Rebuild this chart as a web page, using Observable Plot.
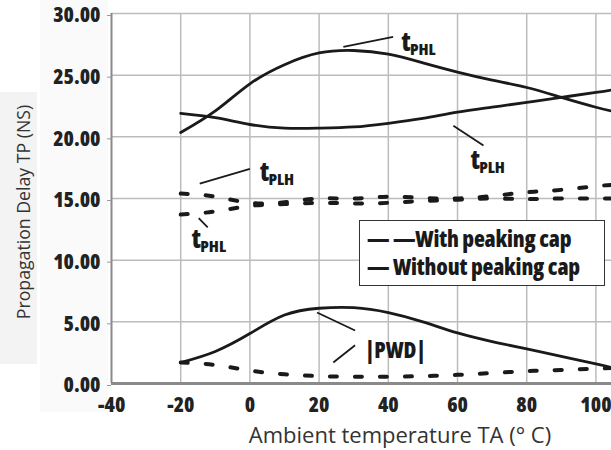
<!DOCTYPE html>
<html><head><meta charset="utf-8">
<script src="https://cdn.jsdelivr.net/npm/d3@7"></script>
<script src="https://cdn.jsdelivr.net/npm/@observablehq/plot@0.6"></script>
<style>
body{margin:0;background:#fff;}
#wrap{position:relative;width:611px;height:450px;overflow:hidden;background:#fff;}
#ylbg{position:absolute;left:0;top:92px;width:37px;height:272px;background:#f3f3f3;}
#tkbg{position:absolute;left:40px;top:0;width:68px;height:412px;background:#fafafa;}
#ylab{position:absolute;left:24px;top:212px;width:0;height:0;}
#ylab span{position:absolute;left:0;top:0;transform:translate(-50%,-50%) rotate(-90deg);white-space:nowrap;line-height:1;
  font-family:'Open Sans',sans-serif;font-size:17.7px;color:#333;}
#xlab{position:absolute;left:400px;top:422.5px;transform:translateX(-50%);white-space:nowrap;line-height:1;
  font-family:'Open Sans',sans-serif;font-size:22px;color:#333;}
#legend{position:absolute;left:359px;top:220px;width:246px;height:66px;box-sizing:border-box;border:1.5px solid #333;background:#fff;
  font-family:'Open Sans',sans-serif;font-stretch:condensed;font-weight:800;font-size:22.5px;line-height:28px;color:#1a1a1a;padding:4px 0 0 7px;white-space:nowrap;letter-spacing:-0.2px;}
svg{position:absolute;left:0;top:0;}
svg text{font-stretch:condensed;}
</style></head><body><div id="wrap"><div id="ylbg"></div><div id="tkbg"></div></div>
<script>
const temps      = [-20, -10, 0, 10, 20, 30, 40, 50, 60, 70, 80, 90, 100, 104.5];
const tphlSolid  = [20.35, 22.1, 24.3, 25.85, 26.8, 27.0, 26.7, 26.0, 25.25, 24.6, 24.0, 23.2, 22.4, 22.1];
const tplhSolid  = [21.9, 21.55, 21.0, 20.7, 20.7, 20.8, 21.1, 21.5, 22.0, 22.4, 22.8, 23.2, 23.6, 23.8];
const pwdSolid   = [1.7, 2.6, 4.05, 5.55, 6.1, 6.15, 5.75, 5.0, 4.1, 3.4, 2.8, 2.2, 1.6, 1.3];
const tplhDash   = [15.4, 15.15, 14.65, 14.7, 15.0, 15.0, 15.15, 15.05, 15.0, 15.2, 15.5, 15.7, 16.0, 16.1];
const tphlDash   = [13.7, 13.95, 14.4, 14.55, 14.65, 14.6, 14.65, 14.8, 14.9, 15.0, 14.95, 15.0, 15.0, 15.0];
const pwdDash    = [1.7, 1.5, 1.05, 0.75, 0.6, 0.55, 0.55, 0.6, 0.7, 0.85, 1.0, 1.1, 1.2, 1.25];

const xTicks = [-40, -20, 0, 20, 40, 60, 80, 100];
const yTicks = [0, 5, 10, 15, 20, 25, 30];
const xLabel = "Ambient temperature TA (° C)";
const yLabel = "Propagation Delay TP (NS)";
const legendItems = ["— —With peaking cap", "— Without peaking cap"];

// annotation labels (data coordinates) and leader lines
const annoLabels = [
  {t: "t", sub: "PHL", x: 43.8, y: 27.0},
  {t: "t", sub: "PLH", x: 63.8, y: 17.4},
  {t: "t", sub: "PLH", x: 2.9, y: 16.45},
  {t: "t", sub: "PHL", x: -16.8, y: 10.95}
];
const pwdLabel = [{text: "|PWD|", x: 33.3, y: 2.05}];
const leaders = [
  {x1: 27.0, y1: 27.3, x2: 41.4, y2: 28.1},
  {x1: 58.8, y1: 20.9, x2: 67.5, y2: 19.3},
  {x1: -14.5, y1: 16.2, x2: 0.0, y2: 17.4},
  {x1: -14.8, y1: 13.4, x2: -12.2, y2: 12.65},
  {x1: 19.4, y1: 5.76, x2: 30.4, y2: 4.3},
  {x1: 24.1, y1: 1.7, x2: 30.4, y2: 3.1}
];

const mk = (arr) => temps.map((t, i) => ({t, v: arr[i]}));
const narrow = "'Open Sans',sans-serif";
const ink = "#1a1a1a";
const solid = {x: "t", y: "v", stroke: ink, strokeWidth: 2.8, curve: "natural"};
const dash = {x: "t", y: "v", stroke: ink, strokeWidth: 4, strokeDasharray: "7,18", curve: "natural"};

const chart = Plot.plot({
  width: 611, height: 450,
  marginLeft: 111, marginRight: 0, marginTop: 13, marginBottom: 67,
  x: {domain: [-40, 104.5]},
  y: {domain: [0, 30]},
  style: {fontFamily: narrow, fontWeight: "800", fontSize: "21px", color: "#222", background: "transparent", overflow: "visible"},
  marks: [
    Plot.gridX(xTicks.filter(d => d > -40), {stroke: "#bcbcbc", strokeOpacity: 1, strokeWidth: 1.5}),
    Plot.gridY(yTicks.filter(d => d > 0), {stroke: "#bcbcbc", strokeOpacity: 1, strokeWidth: 1.5}),
    Plot.ruleX([-40], {stroke: "#8a8a8a", strokeWidth: 2}),
    Plot.ruleY([0], {stroke: "#8a8a8a", strokeWidth: 3}),
    Plot.axisY({ticks: yTicks, tickFormat: d3.format(".2f"), tickSize: 4, tickPadding: 7, stroke: "#999", label: null, fontSize: 21, fontWeight: 800, fill: "#222", dy: 2}),
    Plot.axisX({ticks: xTicks, tickFormat: d => String(d), tickSize: 0, tickPadding: 14, label: null, fontSize: 21, fontWeight: 800, fill: "#222"}),
    Plot.line(mk(tphlSolid), solid),
    Plot.line(mk(tplhSolid), solid),
    Plot.line(mk(pwdSolid), solid),
    Plot.line(mk(tplhDash), dash),
    Plot.line(mk(tphlDash), dash),
    Plot.line(mk(pwdDash), dash),
    Plot.link(leaders, {x1: "x1", y1: "y1", x2: "x2", y2: "y2", stroke: ink, strokeWidth: 1.8}),
    Plot.text(annoLabels, {x: "x", y: "y", text: "t", textAnchor: "start", lineAnchor: "bottom", fontSize: 26, fontWeight: 800, fill: ink, fontFamily: narrow}),
    Plot.text(annoLabels, {x: "x", y: "y", text: "sub", textAnchor: "start", lineAnchor: "bottom", dx: 8.5, dy: 4, fontSize: 16.5, fontWeight: 800, fill: ink, fontFamily: narrow}),
    Plot.text(pwdLabel, {x: "x", y: "y", text: "text", textAnchor: "start", lineAnchor: "bottom", fontSize: 22, fontWeight: 800, fill: ink, fontFamily: narrow})
  ]
});
const wrap = document.getElementById("wrap");
wrap.appendChild(chart);
const xl = document.createElement("div");
xl.id = "xlab";
xl.textContent = xLabel;
wrap.appendChild(xl);
const yl = document.createElement("div");
yl.id = "ylab";
yl.innerHTML = `<span>${yLabel}</span>`;
wrap.appendChild(yl);
const lg = document.createElement("div");
lg.id = "legend";
lg.innerHTML = legendItems.map(s => `<div>${s}</div>`).join("");
wrap.appendChild(lg);
</script></body></html>
